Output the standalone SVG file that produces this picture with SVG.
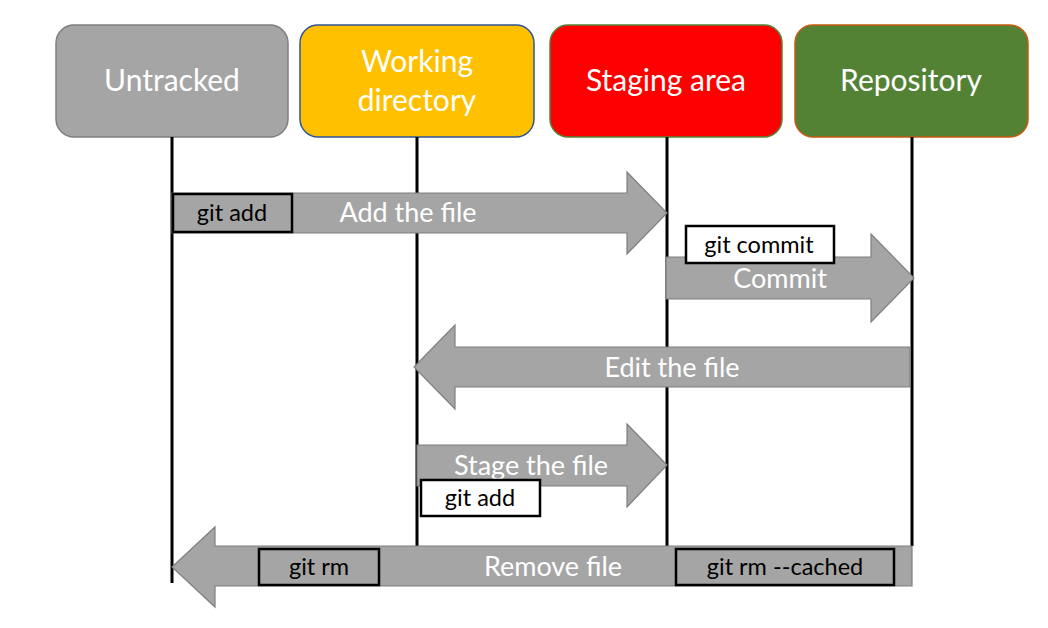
<svg xmlns="http://www.w3.org/2000/svg" width="1048" height="628" viewBox="0 0 1048 628">
<style>
.node{stroke-width:1.5}
.nt{font-family:Lato,"Open Sans","Liberation Sans",sans-serif;font-size:30px;fill:#fff;text-anchor:middle}
.life{stroke:#000;stroke-width:3}
.arr{fill:#a5a5a5;stroke:#7f7f7f;stroke-width:1.2}
.at{font-family:Lato,"Open Sans","Liberation Sans",sans-serif;font-size:27px;fill:#fff;text-anchor:middle}
.cb{stroke:#000;stroke-width:2.5}
.ct{font-family:Lato,"Open Sans","Liberation Sans",sans-serif;font-size:23.5px;fill:#000;text-anchor:middle}
</style>
<rect width="1048" height="628" fill="#fff"/>
<g id="node-untracked">
<rect class="node" x="56" y="25" width="232" height="112" rx="18" fill="#a5a5a5" stroke="#7f7f7f"/>
<text class="nt" x="172" y="91">Untracked</text>
</g>
<g id="node-working">
<rect class="node" x="300" y="25" width="234" height="112" rx="18" fill="#ffc000" stroke="#2f5597"/>
<text class="nt" x="417" y="72">Working</text>
<text class="nt" x="417" y="111">directory</text>
</g>
<g id="node-staging">
<rect class="node" x="550" y="25" width="232" height="112" rx="18" fill="#ff0000" stroke="#548235"/>
<text class="nt" x="666" y="91">Staging area</text>
</g>
<g id="node-repository">
<rect class="node" x="795" y="25" width="233" height="112" rx="18" fill="#548235" stroke="#c55a11"/>
<text class="nt" x="911" y="91">Repository</text>
</g>
<g id="connectors">
<line class="life" x1="172" y1="137" x2="172" y2="583"/>
<line class="life" x1="417" y1="137" x2="417" y2="546"/>
<line class="life" x1="667" y1="137" x2="667" y2="546"/>
<line class="life" x1="912" y1="137" x2="912" y2="546"/>
<g id="arrow-add">
<polygon class="arr" points="172,193 627,193 627,172 667,213 627,254 627,233 172,233"/>
<text class="at" x="408" y="222">Add the file</text>
<rect class="cb" x="173" y="194" width="119" height="38" fill="none"/>
<text class="ct" x="232" y="221">git add</text>
</g>
<g id="arrow-commit">
<polygon class="arr" points="666,257 871,257 871,234 914,278 871,322 871,299 666,299"/>
<text class="at" x="780" y="288">Commit</text>
<rect class="cb" x="686" y="226" width="148" height="37" fill="#fff"/>
<text class="ct" x="759" y="253">git commit</text>
</g>
<g id="arrow-edit">
<polygon class="arr" points="910,347 455,347 455,325 414,367 455,409 455,387 910,387"/>
<text class="at" x="672" y="377">Edit the file</text>
</g>
<g id="arrow-stage">
<polygon class="arr" points="417,445 627,445 627,424 667,465 627,507 627,486 417,486"/>
<text class="at" x="531" y="475">Stage the file</text>
<rect class="cb" x="421" y="480" width="119" height="36" fill="#fff"/>
<text class="ct" x="480" y="506">git add</text>
</g>
<g id="arrow-remove">
<polygon class="arr" points="912,546 215,546 215,527 172,567 215,607 215,586 912,586"/>
<text class="at" x="553" y="576">Remove file</text>
<rect class="cb" x="259" y="549" width="120" height="36" fill="none"/>
<text class="ct" x="319" y="575">git rm</text>
<rect class="cb" x="676" y="549" width="218" height="36" fill="none"/>
<text class="ct" x="785" y="575">git rm --cached</text>
</g>
</g>
</svg>
